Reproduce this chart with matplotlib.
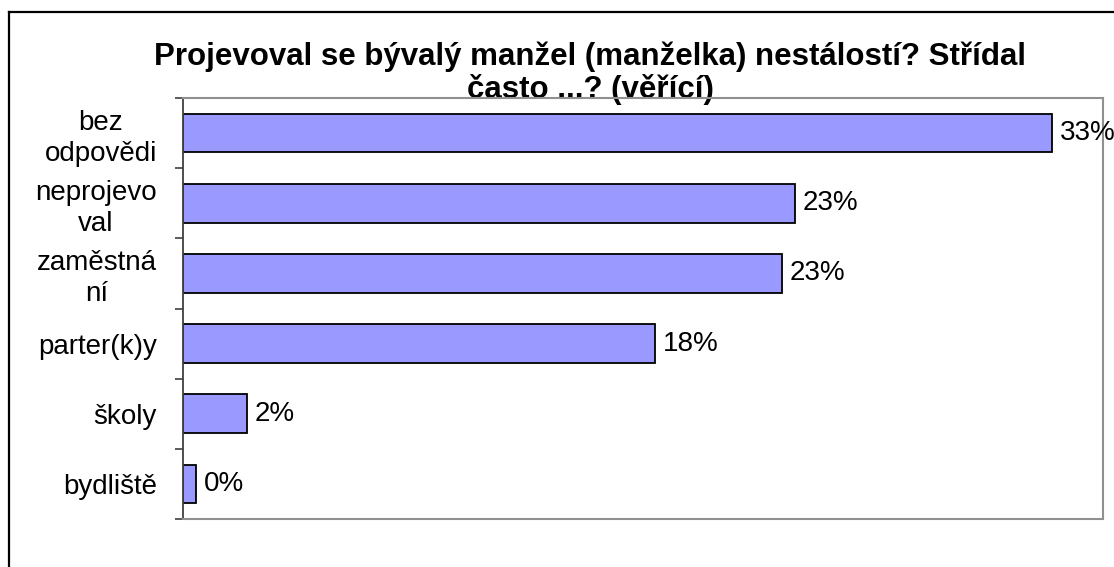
import matplotlib.pyplot as plt
import numpy as np

plt.rcParams['font.family'] = ['Liberation Sans', 'DejaVu Sans']

categories = ['bez\nodpovědi', 'neprojevo\nval', 'zaměstná\nní', 'parter(k)y', 'školy', 'bydliště']
values = [33.05, 23.28, 22.78, 17.95, 2.42, 0.48]  # procenta

fig = plt.figure(figsize=(11.14, 5.67), dpi=100)
ax = fig.add_axes([183.3 / 1114, 1 - 519 / 567, (1103 - 183.3) / 1114, (519 - 98) / 567])
ax.set_facecolor('none')

y = np.arange(len(categories))
ax.barh(y, values, height=0.55, color='#9999FF', edgecolor='black', linewidth=1.3, zorder=2)
for yi, v in zip(y, values):
    ax.text(v + 0.3, yi, f'{v:.0f}%', va='center', ha='left', fontsize=20)

ax.set_xlim(0, 35)
ax.set_ylim(len(categories) - 0.5, -0.5)
ax.set_xticks([])
ax.set_yticks(y)
ax.set_yticklabels(categories, fontsize=20, multialignment='center', linespacing=1.25)
ax.set_yticks(np.arange(len(categories) + 1) - 0.5, minor=True)
ax.tick_params(axis='y', which='major', length=0, pad=19)
ax.tick_params(axis='y', which='minor', length=6, width=1.2, color='#404040', direction='out')

for s in ['top', 'right', 'bottom']:
    ax.spines[s].set_color('#909090')
    ax.spines[s].set_linewidth(1.5)
ax.spines['left'].set_color('#404040')
ax.spines['left'].set_linewidth(1.3)

fig.text(0.53, 1 - 42 / 567,
         'Projevoval se bývalý manžel (manželka) nestálostí? Střídal\nčasto ...? (věřící)',
         ha='center', va='top', fontsize=22.5, fontweight='bold', linespacing=1.08, zorder=-1)

# rámeček grafu (levá a horní hrana)
fig.add_artist(plt.Line2D([8.5 / 1114, 8.5 / 1114], [0, 1 - 12 / 567], color='black', lw=1.6,
                          transform=fig.transFigure))
fig.add_artist(plt.Line2D([8.5 / 1114, 1], [1 - 12 / 567, 1 - 12 / 567], color='black', lw=1.6,
                          transform=fig.transFigure))

fig.savefig('out.png', dpi=100)
